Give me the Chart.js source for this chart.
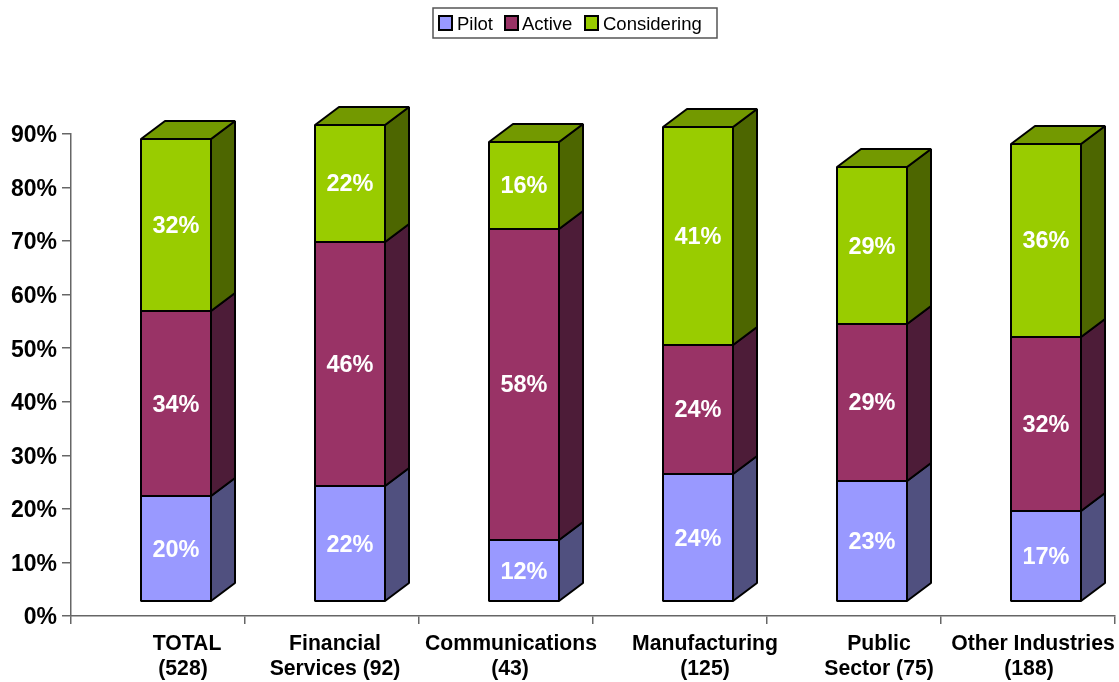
<!DOCTYPE html>
<html>
<head>
<meta charset="utf-8">
<title>Stacked 3D columns</title>
<script src="https://cdn.jsdelivr.net/npm/chart.js@4"></script>
<style>
  html, body { margin: 0; padding: 0; background: #fff; }
  canvas { display: block; }
</style>
</head>
<body>
<canvas id="chart" width="1119" height="682"></canvas>
<script>
const categories = [
  ["TOTAL", "(528)"],
  ["Financial", "Services (92)"],
  ["Communications", "(43)"],
  ["Manufacturing", "(125)"],
  ["Public", "Sector (75)"],
  ["Other Industries", "(188)"]
];

// values, the printed labels are rounded
const pilot = [19.8, 21.7, 11.6, 23.9, 22.6, 17.0];
const active = [34.5, 45.5, 58.1, 24.1, 29.3, 32.5];
const considering = [32.1, 21.9, 16.2, 40.7, 29.3, 36.0];

const pilotLabels = ["20%", "22%", "12%", "24%", "23%", "17%"];
const activeLabels = ["34%", "46%", "58%", "24%", "29%", "32%"];
const consideringLabels = ["32%", "22%", "16%", "41%", "29%", "36%"];

const FONT = '"Liberation Sans", Arial, sans-serif';

// bars sit up and to the right of the category centre, like the old 3D charts
const SHIFT_X = 18;
const SHIFT_Y = -14;
const DEPTH_X = 24;
const DEPTH_Y = 18;

const sideColors = ["#50507f", "#4d1c38", "#4d6600"];
const topColor = "#739900";
const segmentLabels = [pilotLabels, activeLabels, consideringLabels];

// x offset of each category label line from its category centre
const line1Shift = [29, 3, 5, 25, 25, 5];
const line2Shift = [25, 3, 4, 25, 25, 1];

const legendItems = [
  { swatch: 439, text: 457 },
  { swatch: 505, text: 522 },
  { swatch: 585, text: 603 }
];

const threeD = {
  id: "threeD",
  beforeDatasetsDraw(chart) {
    chart.ctx.save();
    chart.ctx.translate(SHIFT_X, SHIFT_Y);
  },
  afterDatasetsDraw(chart) {
    const ctx = chart.ctx;
    ctx.lineWidth = 2;
    ctx.lineJoin = "bevel";
    ctx.strokeStyle = "#000";

    const last = chart.data.datasets.length - 1;
    chart.data.datasets.forEach((ds, i) => {
      chart.getDatasetMeta(i).data.forEach((bar) => {
        const left = Math.round(bar.x - bar.width / 2);
        const right = Math.round(bar.x + bar.width / 2);
        const top = Math.round(bar.y);
        const base = Math.round(bar.base);

        ctx.beginPath();
        ctx.moveTo(right, top);
        ctx.lineTo(right + DEPTH_X, top - DEPTH_Y);
        ctx.lineTo(right + DEPTH_X, base - DEPTH_Y);
        ctx.lineTo(right, base);
        ctx.closePath();
        ctx.fillStyle = sideColors[i];
        ctx.fill();
        ctx.stroke();

        if (i === last) {
          ctx.beginPath();
          ctx.moveTo(left, top);
          ctx.lineTo(left + DEPTH_X, top - DEPTH_Y);
          ctx.lineTo(right + DEPTH_X, top - DEPTH_Y);
          ctx.lineTo(right, top);
          ctx.closePath();
          ctx.fillStyle = topColor;
          ctx.fill();
          ctx.stroke();
        }

        // front outline, centred on the edge so all segments look the same
        ctx.strokeRect(left, top, right - left, base - top);
      });
    });

    // percent labels in the middle of each segment
    ctx.fillStyle = "#fff";
    ctx.font = "bold 23.5px " + FONT;
    ctx.textAlign = "center";
    ctx.textBaseline = "middle";
    chart.data.datasets.forEach((ds, i) => {
      chart.getDatasetMeta(i).data.forEach((bar, j) => {
        ctx.fillText(segmentLabels[i][j], bar.x, (bar.y + bar.base) / 2 + 1.5);
      });
    });
    ctx.restore();

    drawCategoryLabels(chart);
    drawLegend(chart);
  }
};

function drawCategoryLabels(chart) {
  const ctx = chart.ctx;
  const xScale = chart.scales.x;
  ctx.save();
  ctx.fillStyle = "#000";
  ctx.font = "bold 21.2px " + FONT;
  ctx.textAlign = "center";
  ctx.textBaseline = "middle";
  categories.forEach((lines, i) => {
    const x = xScale.getPixelForValue(i);
    ctx.fillText(lines[0], x + line1Shift[i], 644);
    ctx.fillText(lines[1], x + line2Shift[i], 669);
  });
  ctx.restore();
}

function drawLegend(chart) {
  const ctx = chart.ctx;
  ctx.save();
  ctx.lineWidth = 1.5;
  ctx.strokeStyle = "#555";
  ctx.strokeRect(433, 8, 284, 30);
  ctx.font = "18.5px " + FONT;
  ctx.textAlign = "left";
  ctx.textBaseline = "middle";
  chart.data.datasets.forEach((ds, i) => {
    const item = legendItems[i];
    ctx.fillStyle = ds.backgroundColor;
    ctx.fillRect(item.swatch, 16, 13, 14);
    ctx.lineWidth = 2;
    ctx.strokeStyle = "#000";
    ctx.strokeRect(item.swatch, 16, 13, 14);
    ctx.fillStyle = "#000";
    ctx.fillText(ds.label, item.text, 25);
  });
  ctx.restore();
}

function makeDataset(label, data, color) {
  return {
    label,
    data,
    backgroundColor: color,
    borderWidth: 0,
    barPercentage: 70 / 174,
    categoryPercentage: 1,
    clip: false
  };
}

new Chart(document.getElementById("chart"), {
  type: "bar",
  data: {
    labels: categories,
    datasets: [
      makeDataset("Pilot", pilot, "#9999ff"),
      makeDataset("Active", active, "#993366"),
      makeDataset("Considering", considering, "#99cc00")
    ]
  },
  plugins: [threeD],
  options: {
    responsive: false,
    animation: false,
    layout: { padding: { top: 134, right: 4, left: 0, bottom: 0 } },
    plugins: {
      legend: { display: false },
      tooltip: { enabled: false }
    },
    scales: {
      x: {
        stacked: true,
        afterFit: (scale) => { scale.height = 66; },
        border: { color: "#666", width: 1.5 },
        grid: { drawOnChartArea: false, color: "#666", lineWidth: 1.5, tickLength: 8 },
        ticks: { display: false }
      },
      y: {
        stacked: true,
        min: 0,
        max: 90,
        afterFit: (scale) => { scale.width = 71; },
        border: { color: "#666", width: 1.5 },
        grid: { drawOnChartArea: false, color: "#666", lineWidth: 1.5, tickLength: 9 },
        ticks: {
          stepSize: 10,
          padding: 5,
          labelOffset: 2,
          color: "#000",
          font: { family: FONT, size: 23, weight: "bold" },
          callback: (v) => v + "%"
        }
      }
    }
  }
});
</script>
</body>
</html>
